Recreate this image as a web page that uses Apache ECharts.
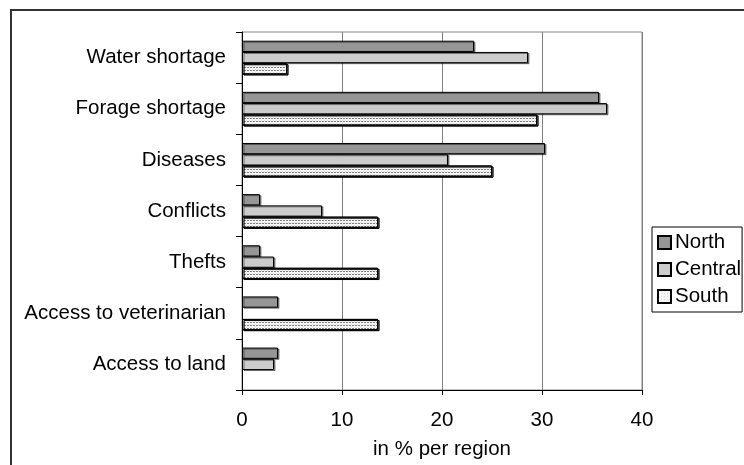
<!DOCTYPE html>
<html>
<head>
<meta charset="utf-8">
<script src="https://cdn.jsdelivr.net/npm/echarts@6/dist/echarts.min.js"></script>
<style>html,body{margin:0;padding:0;background:#fff}#c{width:744px;height:465px}</style>
</head>
<body>
<div id="c"></div>
<script>
const categories = ['Water shortage','Forage shortage','Diseases','Conflicts','Thefts','Access to veterinarian','Access to land'];
const north   = [23.2, 35.7, 30.3, 1.8, 1.8, 3.6, 3.6];
const central = [28.6, 36.5, 20.6, 8.0, 3.2, null, 3.2];
const south   = [4.5, 29.5, 25.0, 13.6, 13.6, 13.6, null];
const xTicks = [0, 10, 20, 30, 40];
const seriesNames = ['North','Central','South'];

const FONT = 'Liberation Sans, Arial, sans-serif';
const FS = 20.5;
const chart = echarts.init(document.getElementById('c'));
const shadow = {shadowColor:'rgba(0,0,0,0.45)', shadowOffsetX:1.5, shadowOffsetY:1, shadowBlur:0};
chart.setOption({
  animation:false,
  backgroundColor:'#fff',
  textStyle:{fontFamily:FONT},
  graphic:[{type:'rect', shape:{x:11,y:10,width:800,height:500}, style:{fill:'none', stroke:'#333', lineWidth:2}, z:-1}],
  grid:{left:242, right:102, top:32, bottom:73, show:true, borderColor:'#888', borderWidth:1, backgroundColor:'#fff'},
  legend:{
    orient:'vertical', left:652, top:227, icon:'rect',
    padding:[5,1,5,5], itemGap:6, itemWidth:13, itemHeight:13,
    borderColor:'#000', borderWidth:1, borderRadius:0,
    textStyle:{fontSize:FS, color:'#000', fontFamily:FONT, padding:[0,0,0,-1]},
    data:seriesNames
  },
  xAxis:{
    type:'value', min:xTicks[0], max:xTicks[xTicks.length-1], interval:10,
    name:'in % per region', nameLocation:'middle', nameGap:49,
    nameTextStyle:{fontSize:FS, color:'#000', fontFamily:FONT},
    axisLine:{show:true, lineStyle:{color:'#000', width:1}},
    axisTick:{show:true, length:5, lineStyle:{color:'#000'}},
    axisLabel:{fontSize:FS, color:'#000', margin:20, fontFamily:FONT},
    splitLine:{show:true, lineStyle:{color:'#808080', width:1}}
  },
  yAxis:{
    type:'category', data:categories, inverse:true,
    axisLine:{show:true, lineStyle:{color:'#000', width:1}},
    axisTick:{show:true, length:6, lineStyle:{color:'#000'}},
    axisLabel:{fontSize:FS, color:'#000', margin:16, fontFamily:FONT},
    splitLine:{show:false}
  },
  series:[
    {name:'North', type:'bar', data:north, barGap:'0%', barCategoryGap:'34%',
     itemStyle:Object.assign({color:'#969696', borderColor:'#000', borderWidth:1}, shadow)},
    {name:'Central', type:'bar', data:central, barGap:'0%', barCategoryGap:'34%',
     itemStyle:Object.assign({color:'#cccccc', borderColor:'#000', borderWidth:1}, shadow)},
    {name:'South', type:'bar', data:south, barGap:'0%', barCategoryGap:'34%',
     itemStyle:Object.assign({color:'#f6f6f6', borderColor:'#000', borderWidth:1,
       decal:{symbol:'rect', symbolSize:1, dashArrayX:[1,2], dashArrayY:[1,2], color:'#dcdcdc', rotation:0}}, shadow)}
  ]
});
</script>
</body>
</html>
